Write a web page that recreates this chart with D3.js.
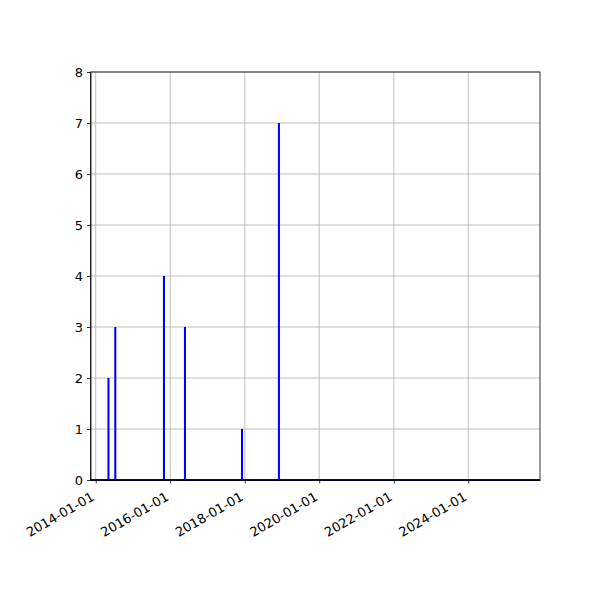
<!DOCTYPE html>
<html lang="en">
<head>
  <meta charset="UTF-8">
  <title>Counts by date</title>
  <script src="https://d3js.org/d3.v7.min.js"></script>
  <style>
    body { margin: 0; background: #fff; }
    text { font-family: "DejaVu Sans", sans-serif; }
  </style>
</head>
<body>
  <svg id="chart" width="600" height="600"></svg>

  <script>
    // Data
    const dates = ["2014-05-06", "2014-07-12", "2015-11-01", "2016-05-25", "2017-12-05", "2018-12-02"];
    const counts = [2, 3, 4, 3, 1, 7];
    const xTickDates = ["2014-01-01", "2016-01-01", "2018-01-01", "2020-01-01", "2022-01-01", "2024-01-01"];
    const yTicks = [0, 1, 2, 3, 4, 5, 6, 7, 8];
    const xRange = ["2013-11-11", "2025-12-04"];

    const parse = d3.timeParse("%Y-%m-%d");
    const fmt = d3.timeFormat("%Y-%m-%d");

    const width = 600, height = 600;
    const margin = { top: 72, right: 60, bottom: 120, left: 90.5 };

    const svg = d3.select("#chart");

    const x = d3.scaleTime()
                .domain(xRange.map(parse))
                .range([margin.left, width - margin.right]);

    const y = d3.scaleLinear()
                .domain([0, 8])
                .range([height - margin.bottom, margin.top]);

    // grid lines
    svg.append("g")
       .selectAll("line.gx")
       .data(xTickDates.map(parse))
       .enter().append("line")
       .attr("x1", d => x(d)).attr("x2", d => x(d))
       .attr("y1", y(0)).attr("y2", y(8))
       .attr("stroke", "#b0b0b0").attr("stroke-width", 0.8);

    svg.append("g")
       .selectAll("line.gy")
       .data(yTicks)
       .enter().append("line")
       .attr("x1", x.range()[0]).attr("x2", x.range()[1])
       .attr("y1", d => y(d)).attr("y2", d => y(d))
       .attr("stroke", "#b0b0b0").attr("stroke-width", 0.8);

    // zero baseline of the series
    svg.append("line")
       .attr("x1", x.range()[0]).attr("x2", x.range()[1])
       .attr("y1", y(0)).attr("y2", y(0))
       .attr("stroke", "blue").attr("stroke-width", 2);

    // bars
    const barDays = 20;
    const barW = d => x(d3.timeDay.offset(d.date, barDays)) - x(d.date);
    svg.append("g")
       .attr("fill", "blue")
       .selectAll("rect")
       .data(dates.map((d, i) => ({ date: parse(d), value: counts[i] })))
       .enter().append("rect")
       .attr("x", d => x(d.date) - barW(d) / 2)
       .attr("width", barW)
       .attr("y", d => y(d.value))
       .attr("height", d => y(0) - y(d.value));

    // frame
    svg.append("rect")
       .attr("x", x.range()[0]).attr("y", y(8))
       .attr("width", x.range()[1] - x.range()[0])
       .attr("height", y(0) - y(8))
       .attr("fill", "none").attr("stroke", "black").attr("stroke-width", 0.8);

    // x axis
    const xAxis = svg.append("g")
       .attr("transform", `translate(0,${y(0)})`)
       .call(d3.axisBottom(x).tickValues(xTickDates.map(parse)).tickFormat(fmt).tickSize(3.5).tickSizeOuter(0));
    xAxis.select(".domain").attr("stroke", "black").attr("stroke-width", 0.8);
    xAxis.selectAll(".tick line").attr("stroke-width", 0.8);
    xAxis.selectAll("text")
         .attr("font-size", "13px")
         .attr("font-family", "DejaVu Sans")
         .attr("fill", "black")
         .attr("text-anchor", "end")
         .attr("x", 0).attr("y", 0)
         .attr("dy", "0.75em")
         .attr("transform", "translate(-6,11) rotate(-30)");

    // y axis
    const yAxis = svg.append("g")
       .attr("transform", `translate(${x.range()[0]},0)`)
       .call(d3.axisLeft(y).tickValues(yTicks).tickFormat(d3.format("d")).tickSize(3.5).tickSizeOuter(0).tickPadding(4));
    yAxis.select(".domain").attr("stroke", "black").attr("stroke-width", 0.8);
    yAxis.selectAll(".tick line").attr("stroke-width", 0.8);
    yAxis.selectAll("text")
         .attr("font-size", "13px")
         .attr("font-family", "DejaVu Sans")
         .attr("fill", "black");
  </script>
</body>
</html>
